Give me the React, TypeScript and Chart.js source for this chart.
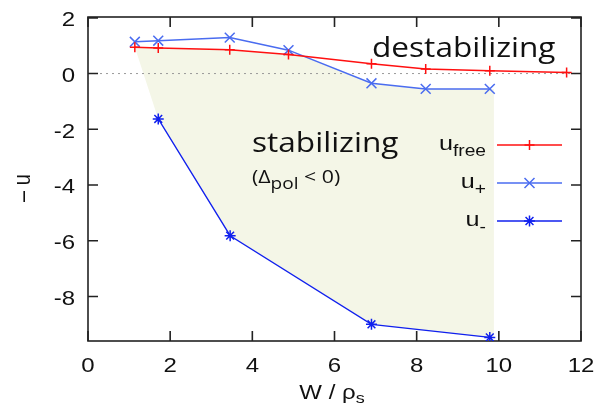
import React, { useEffect, useRef } from "react";
import { Chart, registerables } from "chart.js";

Chart.register(...registerables);

// ---- data ----
const uFreeX = [1.14, 1.71, 3.45, 4.88, 6.9, 8.22, 9.78, 11.65];
const uFree = [0.94, 0.92, 0.85, 0.68, 0.35, 0.16, 0.1, 0.04];
const uPlusX = [1.14, 1.71, 3.45, 4.88, 6.9, 8.22, 9.78];
const uPlus = [1.14, 1.18, 1.29, 0.84, -0.35, -0.55, -0.55];
const uMinusX = [1.71, 3.46, 6.9, 9.78];
const uMinus = [-1.63, -5.82, -9.0, -9.47];
const shadeRightX = [9.88];
const xTicks = [0, 2, 4, 6, 8, 10, 12];
const yTicks = [-8, -6, -4, -2, 0, 2];
const legendNames = [
  { base: "u", sub: "free" },
  { base: "u", sub: "+" },
  { base: "u", sub: "-" },
];

const RED = "#ff1010";
const LBLUE = "#4a6cf0";
const DBLUE = "#1020ee";
const SHADE = "#f4f6e7";
const SX = 1.2;

// shaded polygon, built from the series
function buildShade() {
  const top: { x: number; y: number }[] = [];
  for (let i = 0; i < uPlusX.length; i++) {
    const y = Math.min(uFree[i], uPlus[i]);
    top.push({ x: uPlusX[i], y });
    if (i < uPlusX.length - 1) {
      const d0 = uPlus[i] - uFree[i];
      const d1 = uPlus[i + 1] - uFree[i + 1];
      if (d0 * d1 < 0) {
        const t = d0 / (d0 - d1);
        top.push({
          x: uPlusX[i] + t * (uPlusX[i + 1] - uPlusX[i]),
          y: uFree[i] + t * (uFree[i + 1] - uFree[i]),
        });
      }
    }
  }
  const last = top[top.length - 1];
  const pts = [...top];
  pts.push({ x: shadeRightX[0], y: last.y });
  pts.push({ x: shadeRightX[0], y: uMinus[uMinus.length - 1] });
  for (let i = uMinusX.length - 1; i >= 0; i--) pts.push({ x: uMinusX[i], y: uMinus[i] });
  pts.push({ x: top[0].x, y: top[0].y });
  return pts;
}

type Seg = { t: string; font: string; dy?: number };

function richWidth(ctx: CanvasRenderingContext2D, segs: Seg[], sx: number) {
  let w = 0;
  for (const s of segs) {
    ctx.font = s.font;
    w += ctx.measureText(s.t).width * sx;
  }
  return w;
}

function drawRich(
  ctx: CanvasRenderingContext2D,
  segs: Seg[],
  x: number,
  y: number,
  align: "left" | "center" | "right",
  sx: number
) {
  const w = richWidth(ctx, segs, sx);
  let cx = align === "left" ? x : align === "center" ? x - w / 2 : x - w;
  for (const s of segs) {
    ctx.save();
    ctx.font = s.font;
    ctx.textAlign = "left";
    ctx.textBaseline = "alphabetic";
    const sw = ctx.measureText(s.t).width * sx;
    ctx.translate(cx, y + (s.dy || 0));
    ctx.scale(sx, 1);
    ctx.fillText(s.t, 0, 0);
    ctx.restore();
    cx += sw;
  }
}

function marker(ctx: CanvasRenderingContext2D, kind: string, x: number, y: number, r: number) {
  ctx.beginPath();
  if (kind === "plus" || kind === "star") {
    ctx.moveTo(x - r, y);
    ctx.lineTo(x + r, y);
    ctx.moveTo(x, y - r);
    ctx.lineTo(x, y + r);
  }
  if (kind === "x" || kind === "star") {
    const d = kind === "star" ? r * 0.72 : r;
    ctx.moveTo(x - d, y - d);
    ctx.lineTo(x + d, y + d);
    ctx.moveTo(x - d, y + d);
    ctx.lineTo(x + d, y - d);
  }
  ctx.stroke();
}

const decor = {
  id: "decor",
  beforeDatasetsDraw(chart: any) {
    const { ctx, chartArea: a, scales } = chart;
    const xs = scales.x;
    const ys = scales.y;
    ctx.save();
    // dotted zero line
    const y0 = ys.getPixelForValue(0);
    ctx.strokeStyle = "#9a9a9a";
    ctx.lineWidth = 1;
    ctx.setLineDash([2, 4]);
    ctx.beginPath();
    ctx.moveTo(a.left, y0);
    ctx.lineTo(a.right, y0);
    ctx.stroke();
    ctx.setLineDash([]);
    // frame
    ctx.strokeStyle = "#222";
    ctx.lineWidth = 1.6;
    ctx.strokeRect(a.left, a.top, a.right - a.left, a.bottom - a.top);
    // inward ticks
    const tl = 10;
    ctx.beginPath();
    for (const v of xTicks) {
      const px = xs.getPixelForValue(v);
      ctx.moveTo(px, a.bottom);
      ctx.lineTo(px, a.bottom - tl);
      ctx.moveTo(px, a.top);
      ctx.lineTo(px, a.top + tl);
    }
    for (const v of yTicks) {
      const py = ys.getPixelForValue(v);
      ctx.moveTo(a.left, py);
      ctx.lineTo(a.left + tl, py);
      ctx.moveTo(a.right, py);
      ctx.lineTo(a.right - tl, py);
    }
    ctx.stroke();
    ctx.restore();
  },
  afterDatasetsDraw(chart: any) {
    const { ctx, chartArea: a, scales } = chart;
    const xs = scales.x;
    const ys = scales.y;
    ctx.save();
    ctx.fillStyle = "#111";
    const tickFont = '20px "Liberation Sans", Arial, sans-serif';
    // tick labels
    for (const v of xTicks) {
      drawRich(ctx, [{ t: String(v), font: tickFont }], xs.getPixelForValue(v), a.bottom + 31, "center", SX);
    }
    for (const v of yTicks) {
      drawRich(ctx, [{ t: String(v), font: tickFont }], a.left - 13, ys.getPixelForValue(v) + 8.5, "right", SX);
    }
    // x title
    drawRich(
      ctx,
      [
        { t: "W / ρ", font: tickFont },
        { t: "s", font: '15px "Liberation Sans", Arial, sans-serif', dy: 4 },
      ],
      332,
      399,
      "center",
      SX
    );
    // y title (rotated)
    ctx.save();
    ctx.translate(30, 188);
    ctx.rotate(-Math.PI / 2);
    ctx.font = tickFont;
    ctx.textAlign = "center";
    ctx.textBaseline = "alphabetic";
    ctx.scale(1, SX);
    ctx.fillText("– u", 0, 0);
    ctx.restore();

    // annotations
    const big = '27px "Open Sans", sans-serif';
    drawRich(ctx, [{ t: "destabilizing", font: big }], 372, 57, "left", 1.17);
    drawRich(ctx, [{ t: "stabilizing", font: big }], 252, 152, "left", 1.17);
    drawRich(
      ctx,
      [
        { t: "(Δ", font: '19px "Open Sans", sans-serif' },
        { t: "pol", font: '17px "Open Sans", sans-serif', dy: 6 },
        { t: " < 0)", font: '19px "Open Sans", sans-serif' },
      ],
      252,
      183,
      "left",
      1.12
    );

    // legend
    const rows = [
      { color: RED, kind: "plus", r: 5, lw: 1.5 },
      { color: LBLUE, kind: "x", r: 5, lw: 1.5 },
      { color: DBLUE, kind: "star", r: 5.5, lw: 1.3 },
    ];
    const rowY = [145, 183, 221];
    rows.forEach((row, i) => {
      const y = rowY[i];
      const nm = legendNames[i];
      ctx.fillStyle = "#111";
      drawRich(
        ctx,
        [
          { t: nm.base, font: '21px "Liberation Sans", Arial, sans-serif' },
          { t: nm.sub, font: '16px "Liberation Sans", Arial, sans-serif', dy: 6 },
        ],
        486,
        y + 4.5,
        "right",
        SX
      );
      ctx.strokeStyle = row.color;
      ctx.lineWidth = row.lw;
      ctx.beginPath();
      ctx.moveTo(497, y);
      ctx.lineTo(562, y);
      ctx.stroke();
      ctx.lineWidth = 1.5;
      marker(ctx, row.kind, 529.5, y, row.r);
    });
    ctx.restore();
  },
};

export default function App() {
  const ref = useRef<HTMLCanvasElement | null>(null);
  useEffect(() => {
    if (!ref.current) return;
    const toPts = (xs: number[], ys: number[]) => xs.map((x, i) => ({ x, y: ys[i] }));
    const chart = new Chart(ref.current, {
      type: "line",
      data: {
        datasets: [
          {
            label: "u_free",
            data: toPts(uFreeX, uFree),
            borderColor: RED,
            borderWidth: 1.5,
            pointStyle: "cross",
            pointRadius: 5,
            pointBorderWidth: 1.5,
            pointBorderColor: RED,
            fill: false,
            order: 1,
          },
          {
            label: "u+",
            data: toPts(uPlusX, uPlus),
            borderColor: LBLUE,
            borderWidth: 1.5,
            pointStyle: "crossRot",
            pointRadius: 7,
            pointBorderWidth: 1.5,
            pointBorderColor: LBLUE,
            fill: false,
            order: 2,
          },
          {
            label: "u-",
            data: toPts(uMinusX, uMinus),
            borderColor: DBLUE,
            borderWidth: 1.3,
            pointStyle: "star",
            pointRadius: 5.5,
            pointBorderWidth: 1.5,
            pointBorderColor: DBLUE,
            fill: false,
            order: 3,
          },
          {
            label: "shade",
            data: buildShade(),
            borderColor: "rgba(0,0,0,0)",
            borderWidth: 0,
            pointRadius: 0,
            backgroundColor: SHADE,
            fill: "shape",
            order: 10,
          } as any,
        ],
      },
      options: {
        animation: false,
        responsive: true,
        maintainAspectRatio: false,
        layout: { padding: { top: 17, right: 26, left: 0, bottom: 0 } },
        plugins: {
          legend: { display: false },
          tooltip: { enabled: false },
          filler: { drawTime: "beforeDatasetsDraw" } as any,
        },
        scales: {
          x: {
            type: "linear",
            min: 0,
            max: 12,
            grid: { display: false },
            border: { display: false },
            ticks: { display: false },
            afterFit: (s: any) => {
              s.height = 73;
            },
          },
          y: {
            type: "linear",
            min: -9.6,
            max: 2.03,
            grid: { display: false },
            border: { display: false },
            ticks: { display: false },
            afterFit: (s: any) => {
              s.width = 88;
            },
          },
        },
      },
      plugins: [decor],
    });
    return () => chart.destroy();
  }, []);
  return (
    <div style={{ position: "fixed", left: 0, top: 0, width: 607, height: 414, background: "#fff" }}>
      <canvas ref={ref} />
    </div>
  );
}
